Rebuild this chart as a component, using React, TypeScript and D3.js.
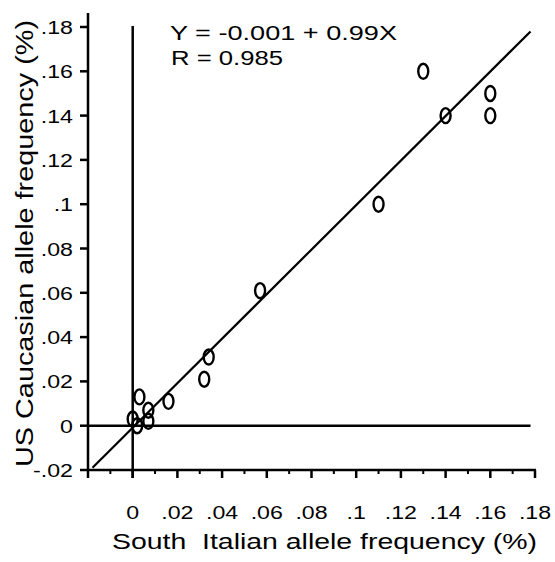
import React from 'react';
import * as d3 from 'd3';

// allele frequencies
const southItalian = [0.13, 0.16, 0.16, 0.14, 0.11, 0.057, 0.034, 0.032, 0.016, 0.003, 0, 0.007, 0.007, 0.002];
const usCaucasian = [0.16, 0.15, 0.14, 0.14, 0.10, 0.061, 0.031, 0.021, 0.011, 0.013, 0.003, 0.007, 0.002, 0];

// fitted line ends as drawn
const fitX = [-0.018, 0.178];
const fitY = [-0.019, 0.178];

const xTickValues = [0, 0.02, 0.04, 0.06, 0.08, 0.1, 0.12, 0.14, 0.16, 0.18];
const xTickLabels = ['0', '.02', '.04', '.06', '.08', '.1', '.12', '.14', '.16', '.18'];
const xMinorValues = [-0.01, 0.01, 0.03, 0.05, 0.07, 0.09, 0.11, 0.13, 0.15, 0.17];
const yTickValues = [-0.02, 0, 0.02, 0.04, 0.06, 0.08, 0.1, 0.12, 0.14, 0.16, 0.18];
const yTickLabels = ['-.02', '0', '.02', '.04', '.06', '.08', '.1', '.12', '.14', '.16', '.18'];

const equation = 'Y = -0.001 + 0.99X';
const rValue = 'R = 0.985';
const xTitle = 'South  Italian allele frequency (%)';
const yTitle = 'US Caucasian allele frequency (%)';

const W = 555, H = 562;
const font = '"Liberation Sans", Arial, Helvetica, sans-serif';

export default function App() {
  const x = d3.scaleLinear().domain([-0.02, 0.18]).range([88, 535]);
  const y = d3.scaleLinear().domain([-0.02, 0.18]).range([470, 27]);

  const axisY = y(-0.02);
  const axisX = x(-0.02);

  const fit = d3.line<number>()
    .x((d) => x(d))
    .y((d, i) => y(fitY[i]));

  const points = southItalian.map((d, i) => ({ sx: d, us: usCaucasian[i] }));

  return (
    <svg width={W} height={H} style={{ position: 'absolute', left: 0, top: 0, background: '#fff' }}
      fontFamily={font}>
      <rect width={W} height={H} fill="#fff" />

      {/* zero reference lines */}
      <line x1={x(0)} x2={x(0)} y1={y(0.18) - 1} y2={axisY + 8} stroke="#000" strokeWidth={2.5} />
      <line x1={axisX} x2={x(0.178)} y1={y(0)} y2={y(0)} stroke="#000" strokeWidth={2.5} />

      {/* y axis */}
      <line x1={axisX} x2={axisX} y1={13} y2={axisY + 8} stroke="#000" strokeWidth={2.5} />
      {yTickValues.map((d, i) => (
        <g key={'y' + d} transform={`translate(${axisX},${y(d)})`}>
          <line x1={-8} x2={0} y1={0} y2={0} stroke="#000" strokeWidth={2.5} />
          <text transform="translate(-15,7) scale(1.22,1)" textAnchor="end" fontSize={19}>{yTickLabels[i]}</text>
        </g>
      ))}

      {/* x axis */}
      <line x1={axisX} x2={x(0.18) + 1} y1={axisY} y2={axisY} stroke="#000" strokeWidth={2.5} />
      {xMinorValues.map((d) => (
        <line key={'m' + d} x1={x(d)} x2={x(d)} y1={axisY} y2={axisY + 4} stroke="#000" strokeWidth={2} />
      ))}
      {xTickValues.map((d, i) => (
        <g key={'x' + d} transform={`translate(${x(d)},${axisY})`}>
          <line x1={0} x2={0} y1={0} y2={8} stroke="#000" strokeWidth={2.5} />
          <text transform="translate(0,49) scale(1.22,1)" textAnchor="middle" fontSize={19}>{xTickLabels[i]}</text>
        </g>
      ))}

      {/* regression line */}
      <path d={fit(fitX) || ''} fill="none" stroke="#000" strokeWidth={2.2} />

      {/* points drawn as "0" rings */}
      {points.map((p, i) => (
        <ellipse key={i} cx={x(p.sx)} cy={y(p.us)} rx={5} ry={7.5}
          fill="none" stroke="#000" strokeWidth={2.4} />
      ))}

      <text x={170} y={40} fontSize={20} textLength={227} lengthAdjust="spacingAndGlyphs">{equation}</text>
      <text x={171} y={65} fontSize={20} textLength={112} lengthAdjust="spacingAndGlyphs">{rValue}</text>

      <text x={112} y={549} fontSize={22} textLength={425} lengthAdjust="spacingAndGlyphs"
        style={{ whiteSpace: 'pre' }}>{xTitle}</text>
      <text transform={`translate(33,${(20 + 467) / 2}) rotate(-90)`} textAnchor="middle" fontSize={23}
        textLength={447} lengthAdjust="spacingAndGlyphs">{yTitle}</text>
    </svg>
  );
}
